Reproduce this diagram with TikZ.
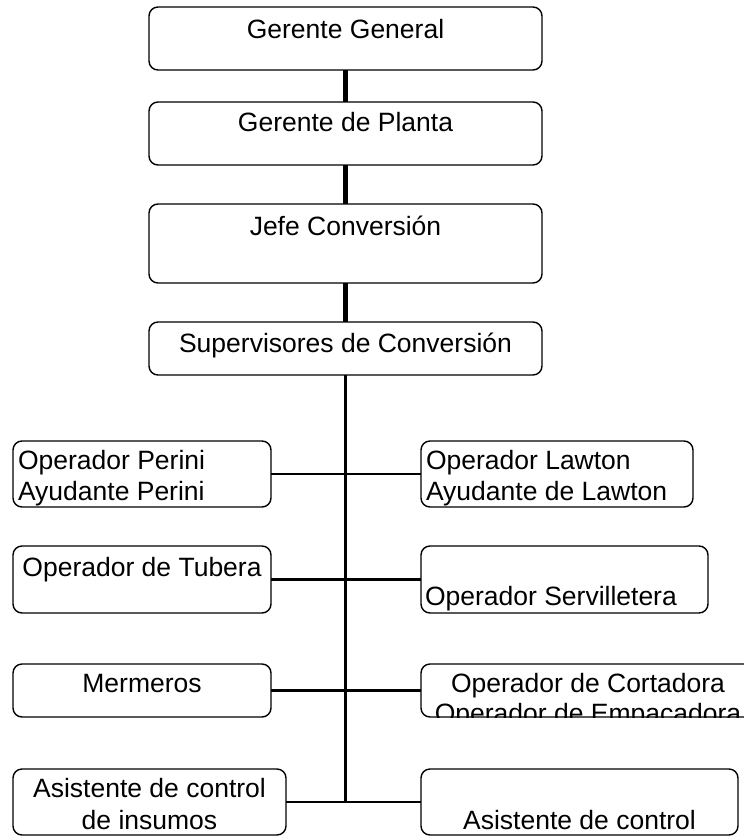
\documentclass[tikz,border=0pt]{standalone}
\usepackage{fontspec}
\setmainfont{Liberation Sans}
\begin{document}
\begin{tikzpicture}[x=1pt,y=-1pt,
  box/.style={draw, line width=1.4pt, rounded corners=9pt, inner sep=0pt, outer sep=0pt},
  lbl/.style={inner sep=0pt, outer sep=0pt, font=\fontsize{26.5}{30}\selectfont},
  trunk/.style={line width=5pt},
  spine/.style={line width=3pt},
  branch/.style={line width=2.2pt}]
\useasboundingbox (0,0) rectangle (744,836);

% chain of command
\node[box, minimum width=393pt, minimum height=63pt] (gg) at (345.5,38.5) {};
\node[box, minimum width=393pt, minimum height=63pt] (gp) at (345.5,133.5) {};
\node[box, minimum width=393pt, minimum height=79pt] (jc) at (345.5,243.5) {};
\node[box, minimum width=393pt, minimum height=53pt] (sup) at (345.5,348.5) {};

% operating staff, left column
\node[box, minimum width=258pt, minimum height=66pt] (perini) at (142,474) {};
\node[box, minimum width=258pt, minimum height=67pt] (tubera) at (142,579.5) {};
\node[box, minimum width=258pt, minimum height=53pt] (merm) at (142,690.5) {};
\node[box, minimum width=273pt, minimum height=66pt] (asisL) at (149.5,802) {};

% operating staff, right column
\node[box, minimum width=272pt, minimum height=66pt] (lawton) at (557,474) {};
\node[box, minimum width=287pt, minimum height=67pt] (servi) at (564.5,579.5) {};
\node[box, minimum width=334pt, minimum height=53pt] (corta) at (588,690.5) {};
\node[box, minimum width=317pt, minimum height=66pt] (asisR) at (579.5,802) {};

% labels, cut off at the box edges
\node[lbl, anchor=base] at (345.5,38) {Gerente General};
\node[lbl, anchor=base] at (345.5,131) {Gerente de Planta};
\node[lbl, anchor=base] at (345.5,235) {Jefe Conversión};
\node[lbl, anchor=base] at (345.5,352) {Supervisores de Conversión};

\begin{scope}
  \clip (perini.north west) rectangle (perini.south east);
  \node[lbl, anchor=base west] at (18,469) {Operador Perini};
  \node[lbl, anchor=base west] at (18,500) {Ayudante Perini};
\end{scope}
\begin{scope}
  \clip (lawton.north west) rectangle (lawton.south east);
  \node[lbl, anchor=base west] at (426,469) {Operador Lawton};
  \node[lbl, anchor=base west] at (426,500) {Ayudante de Lawton};
\end{scope}
\node[lbl, anchor=base] at (142,576) {Operador de Tubera};
\node[lbl, anchor=base west] at (425,605) {Operador Servilletera};
\node[lbl, anchor=base] at (142,692) {Mermeros};
\begin{scope}
  \clip (corta.north west) rectangle (corta.south east);
  \node[lbl, anchor=base] at (588,692) {Operador de Cortadora};
  \node[lbl, anchor=base] at (588,722) {Operador de Empacadora};
\end{scope}
\node[lbl, anchor=base] at (149.5,797) {Asistente de control};
\node[lbl, anchor=base] at (149.5,829) {de insumos};
\begin{scope}
  \clip (asisR.north west) rectangle (asisR.south east);
  \node[lbl, anchor=base] at (579.5,829) {Asistente de control};
\end{scope}

% connectors
\draw[trunk] (gg.south) -- (gp.north);
\draw[trunk] (gp.south) -- (jc.north);
\draw[trunk] (jc.south) -- (sup.north);
\draw[spine] (sup.south) -- (sup.south |- asisL.east);
\draw[branch] (perini.east) -- (lawton.west);
\draw[branch] (tubera.east) -- (servi.west);
\draw[branch] (merm.east) -- (corta.west);
\draw[branch] (asisL.east) -- (asisR.west);
\end{tikzpicture}
\end{document}
